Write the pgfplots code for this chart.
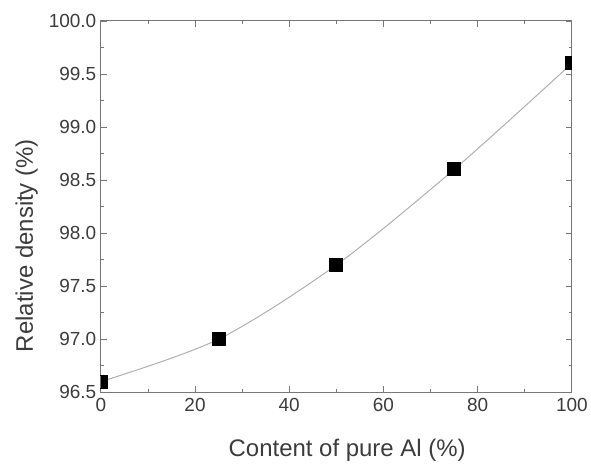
\documentclass[border=0pt]{standalone}
\usepackage{fontspec}
\setmainfont{Liberation Sans}
\usepackage{pgfplots}
\pgfplotsset{compat=1.18}
\definecolor{txt}{RGB}{60,60,60}
\definecolor{axline}{RGB}{120,120,120}
\definecolor{curve}{RGB}{175,175,175}
\begin{document}
\begin{tikzpicture}
\begin{axis}[
    scale only axis,
    width=472pt, height=372pt,
    xmin=0, xmax=100,
    ymin=96.5, ymax=100,
    xtick={0,20,40,60,80,100},
    ytick={96.5,97,...,100},
    minor x tick num=1,
    minor y tick num=1,
    tick align=inside,
    major tick length=6pt,
    minor tick length=3pt,
    axis line style={axline, line width=1pt},
    every tick/.style={axline, line width=0.8pt},
    tick label style={font=\fontsize{19}{22}\selectfont, text=txt},
    /pgf/number format/assume math mode=true,
    yticklabel style={/pgf/number format/fixed, /pgf/number format/precision=1, /pgf/number format/fixed zerofill, xshift=-1pt},
    xticklabel style={yshift=-3pt},
    label style={font=\fontsize{24}{28}\selectfont, text=txt},
    xlabel={Content of pure Al (\%)},
    ylabel={Relative density (\%)},
    xlabel style={at={(axis description cs:0.523,0)}, anchor=base, yshift=-64pt},
    ylabel style={at={(axis description cs:-0.144,0.395)}, anchor=base},
    clip=true,
    clip marker paths=true,
]
\addplot[curve, line width=1pt, smooth, tension=0.5, mark=square*,
    mark options={black, fill=black, line width=0pt}, mark size=6.5pt]
  coordinates {(0,96.6) (25,97.0) (50,97.7) (75,98.6) (100,99.6)};
\end{axis}
\path (current axis.south west) ++(-101pt,-70pt) coordinate (bbsw);
\path (current axis.north east) ++(18pt,21pt) coordinate (bbne);
\useasboundingbox (bbsw) rectangle (bbne);
\end{tikzpicture}
\end{document}
